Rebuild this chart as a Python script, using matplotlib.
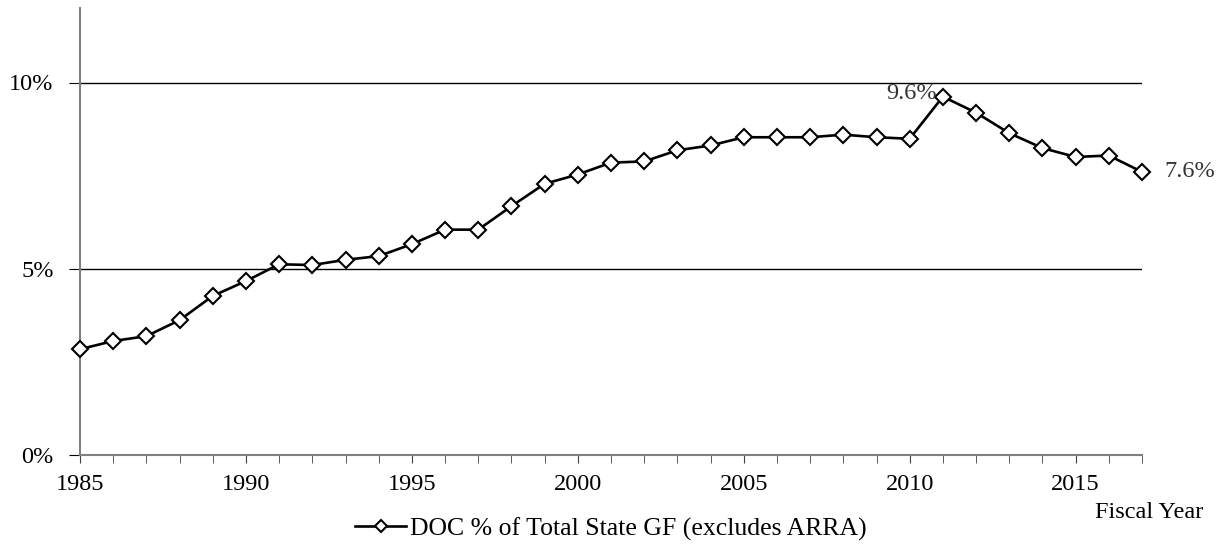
import numpy as np
import matplotlib.pyplot as plt

plt.rcParams['font.family'] = ['Liberation Serif', 'DejaVu Serif']

# DOC share of total state general fund, by fiscal year
years = np.arange(1985, 2018)
doc_share = [2.84, 3.06, 3.19, 3.62, 4.27, 4.67, 5.12, 5.10, 5.24, 5.34,
             5.66, 6.05, 6.05, 6.68, 7.28, 7.53, 7.85, 7.88, 8.18, 8.31,
             8.53, 8.53, 8.53, 8.60, 8.53, 8.49, 9.62, 9.19, 8.64, 8.24,
             8.00, 8.04, 7.60]
y_ticks = [0, 5, 10]
x_ticks = [1985, 1990, 1995, 2000, 2005, 2010, 2015]

fs = 17.5

fig = plt.figure(figsize=(12.27, 5.48), dpi=100)
ax = fig.add_axes([80 / 1227, 1 - 455 / 548, 1062 / 1227, 447 / 548])

ax.plot(years, doc_share, color='black', linewidth=1.9, marker='D',
        markersize=8.5, markerfacecolor='white', markeredgecolor='black',
        markeredgewidth=1.5, label='DOC % of Total State GF (excludes ARRA)',
        zorder=3, clip_on=False)

ax.set_xlim(1985, 2017)
ax.set_ylim(0, 12)
ax.set_yticks(y_ticks)
ax.set_yticklabels([f'{v}%' for v in y_ticks])
ax.set_xticks(x_ticks)
ax.set_xticks(years, minor=True)
ax.tick_params(axis='x', which='both', direction='out', length=6,
               color='#404040', labelsize=fs, pad=8)
ax.tick_params(axis='y', direction='out', length=8, color='black',
               labelsize=fs, pad=11)

for y in [5, 10]:
    ax.axhline(y, color='black', linewidth=1, zorder=1)

for side in ['top', 'right']:
    ax.spines[side].set_visible(False)
for side in ['left', 'bottom']:
    ax.spines[side].set_color('#808080')
    ax.spines[side].set_linewidth(1.5)

# peak and latest values
i_peak = int(np.argmax(doc_share))
ax.annotate(f'{doc_share[i_peak]:.1f}%', (years[i_peak], doc_share[i_peak]),
            xytext=(-4, 2), textcoords='offset points', ha='right', va='center',
            fontsize=fs, color='#333333')
ax.annotate(f'{doc_share[-1]:.1f}%', (years[-1], doc_share[-1]),
            xytext=(16, 0), textcoords='offset points', ha='left', va='center',
            fontsize=fs, color='#333333', annotation_clip=False)

fig.text(1203 / 1227, 1 - 513 / 548, 'Fiscal Year', ha='right', va='center',
         fontsize=fs)
fig.legend(loc='center', bbox_to_anchor=(611 / 1227, 1 - 529 / 548),
           frameon=False, fontsize=18.5, handlelength=2.0, handletextpad=0.15,
           markerscale=0.7, borderaxespad=0)

fig.savefig('out.png', dpi=100)
